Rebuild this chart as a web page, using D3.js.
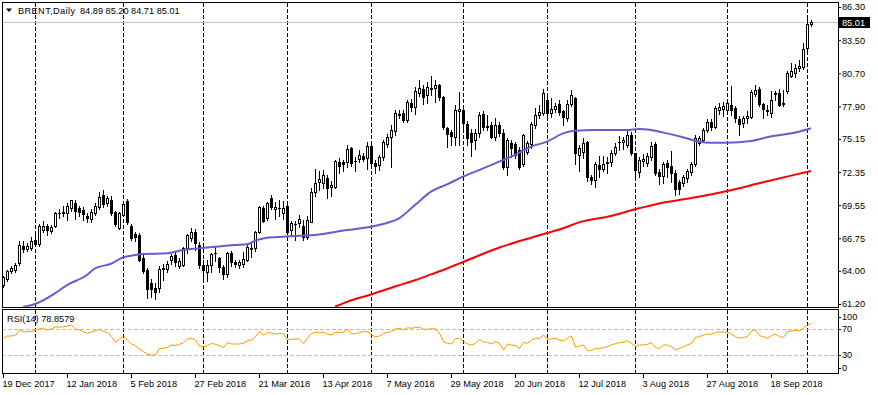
<!DOCTYPE html>
<html><head><meta charset="utf-8">
<script src="https://cdn.jsdelivr.net/npm/d3@7"></script>
<style>
html,body{margin:0;padding:0;background:#fff;}
svg{display:block;}
text{font-family:"Liberation Sans",Arial,sans-serif;font-size:9.2px;fill:#000;}
</style></head><body>
<svg id="c" width="878" height="395"></svg>
<script>
// ---- DATA (BRENT daily, 19 Dec 2017 .. 2 Oct 2018), index = bar number ----
const open = [
62.80,63.28,64.00,64.07,64.64,66.13,65.82,65.96,66.60,66.24,
67.45,67.82,67.40,67.82,68.86,68.90,68.86,69.28,69.70,69.28,
69.15,68.66,68.35,68.86,69.43,70.41,69.71,69.99,68.95,67.65,
68.72,69.90,67.82,67.09,67.03,65.10,64.07,62.94,62.52,62.52,
64.15,64.15,64.92,65.34,64.44,64.50,65.90,66.80,67.31,66.19,
64.50,63.87,64.50,65.50,65.06,64.36,63.70,65.48,64.72,64.50,
64.55,64.92,65.96,65.90,67.25,69.28,68.50,70.13,69.20,69.35,
68.86,69.51,67.45,67.95,68.07,67.80,66.89,68.16,70.69,71.55,
71.40,71.82,71.06,71.12,73.23,73.23,73.23,74.36,73.28,73.43,
73.71,73.51,74.55,73.15,72.95,73.60,74.73,75.29,75.85,77.20,
77.37,76.75,78.22,77.82,79.06,79.37,78.86,79.43,79.43,79.71,
78.72,76.05,75.71,75.34,77.50,77.60,76.40,75.68,75.06,75.62,
77.30,76.25,76.33,75.29,76.33,75.68,72.81,74.84,74.72,74.20,
73.03,74.08,74.72,76.33,77.17,77.31,78.44,77.31,77.65,78.10,
77.50,76.89,78.10,78.58,73.80,74.08,74.92,71.96,71.68,72.95,
72.58,73.10,73.17,73.99,74.85,74.86,74.64,75.48,73.99,72.38,
73.30,73.14,73.65,74.72,72.38,72.02,73.09,72.89,72.30,71.54,
71.45,71.82,72.38,73.03,74.78,75.06,75.90,76.61,76.19,77.60,
77.65,77.60,78.02,77.74,76.83,76.47,76.95,77.03,78.95,79.34,
78.10,77.50,77.31,78.95,79.00,78.10,79.23,80.47,80.75,81.12,
81.26,82.81,84.89];
const high = [
63.60,64.10,64.40,64.70,66.50,66.50,66.35,66.90,67.00,68.00,
68.20,68.00,67.90,69.00,69.20,69.50,69.70,70.00,70.00,69.50,
69.40,68.90,69.20,69.70,70.70,70.80,70.30,70.30,69.10,68.95,
69.80,70.10,68.00,67.30,67.20,65.30,64.20,63.30,63.00,64.40,
64.60,64.80,65.40,65.70,65.10,66.00,67.10,67.60,67.50,66.40,
64.90,64.90,65.50,66.00,65.20,64.50,65.60,65.70,64.90,64.90,
65.60,66.30,66.40,67.40,69.50,69.45,69.80,70.40,69.80,70.00,
69.90,69.90,68.20,68.20,68.70,68.30,68.60,71.00,72.60,72.40,
72.50,72.10,71.60,73.40,73.50,73.40,74.60,74.50,73.60,74.20,
74.00,74.90,75.00,73.40,73.80,75.10,75.60,76.30,77.60,77.60,
77.60,78.40,78.50,79.50,80.10,79.70,80.00,80.50,80.10,79.80,
78.80,76.20,75.90,78.00,79.10,77.70,76.70,76.00,76.00,77.40,
77.50,77.20,76.60,76.90,76.60,76.00,75.20,75.10,74.90,74.50,
75.60,75.00,76.60,77.80,78.00,79.40,79.00,78.60,78.20,78.40,
77.60,78.40,79.30,78.70,74.60,75.20,75.00,72.10,73.20,73.70,
73.70,73.60,74.20,74.80,75.40,75.30,75.80,75.70,74.00,73.60,
73.90,74.00,74.90,74.90,72.60,73.20,73.40,74.10,72.50,71.70,
72.10,72.60,73.20,75.50,75.40,76.10,76.80,76.80,77.90,78.20,
78.30,78.40,79.60,77.90,77.10,77.10,77.50,79.30,79.70,79.50,
78.20,78.00,79.20,79.20,79.40,79.30,80.90,81.60,81.50,81.80,
83.30,85.35,85.20];
const low = [
62.60,63.10,63.85,63.90,64.50,65.60,65.70,65.80,66.10,66.10,
67.30,67.00,67.20,67.70,68.50,68.60,68.30,69.10,68.40,68.60,
68.30,68.10,68.10,68.70,69.20,69.40,69.50,68.70,67.80,67.50,
68.60,68.00,66.60,66.50,64.80,63.80,61.68,61.80,61.60,62.20,
63.20,63.90,64.60,64.40,64.20,64.40,65.50,66.50,65.80,64.20,
63.10,63.10,63.90,64.80,63.90,63.30,63.50,64.40,64.30,64.20,
64.30,64.80,65.20,65.70,67.20,68.10,68.30,69.20,68.40,68.60,
68.40,67.10,67.00,66.60,67.70,66.60,66.70,68.10,70.30,70.80,
71.00,70.20,70.30,71.00,72.30,72.40,72.80,72.90,72.40,73.20,
73.30,72.60,72.70,72.30,72.50,73.40,74.50,72.80,75.50,76.90,
76.60,76.60,77.50,77.30,78.80,78.10,78.20,78.90,78.30,78.40,
76.00,74.50,74.60,74.60,74.60,75.70,74.60,73.70,74.30,75.30,
75.90,75.90,75.20,75.10,75.40,72.60,72.10,73.60,73.50,72.60,
72.90,73.90,74.40,76.10,76.90,77.20,77.00,77.00,77.40,77.20,
76.30,76.70,77.90,73.00,72.40,73.50,71.60,71.30,71.10,71.90,
72.40,72.30,72.90,73.80,74.20,74.30,74.50,73.80,71.80,71.90,
72.90,72.90,73.40,72.10,71.30,71.40,71.90,71.50,70.40,70.50,
71.20,71.50,72.10,72.90,74.60,74.90,75.70,75.90,76.10,77.30,
77.10,77.30,77.20,76.60,75.50,76.20,76.50,76.90,78.80,77.90,
76.90,77.20,77.00,78.40,77.90,77.90,79.00,80.40,80.40,80.90,
81.10,82.50,84.71];
const close = [
63.45,64.00,64.27,64.50,66.19,65.82,66.13,66.52,66.24,67.82,
67.82,67.45,67.73,68.86,68.90,68.95,69.50,69.99,69.06,69.00,
68.78,68.44,69.00,69.48,70.27,69.65,70.19,68.86,67.93,68.86,
69.65,68.10,66.80,66.90,64.92,63.99,62.50,62.47,62.24,64.15,
64.25,64.55,65.25,64.72,64.83,65.90,67.03,67.25,66.33,64.50,
64.07,64.50,65.42,65.55,64.36,63.70,65.48,64.78,64.55,64.72,
65.00,66.05,65.85,67.31,69.43,68.21,69.71,69.43,69.40,69.30,
69.28,67.31,68.02,68.00,68.35,66.89,68.30,70.69,71.45,71.74,
72.07,70.98,71.26,73.31,72.86,73.00,74.30,73.09,73.30,73.80,
73.46,74.55,73.15,72.90,73.60,74.92,75.35,75.90,77.32,77.30,
76.75,78.30,77.88,79.23,79.43,78.67,79.51,79.35,79.71,78.72,
76.19,75.57,75.40,77.60,77.68,76.47,75.20,74.92,75.62,77.17,
76.19,76.15,75.29,76.33,75.62,72.81,75.06,74.36,73.80,72.81,
75.48,74.80,76.41,77.17,77.45,79.06,77.31,77.65,77.93,77.45,
76.97,78.10,78.86,73.99,74.36,74.78,71.96,71.68,73.03,72.58,
73.03,73.20,73.93,74.50,74.90,75.06,75.48,73.99,72.52,73.37,
73.45,73.70,74.55,72.30,72.02,73.03,72.81,72.30,70.90,70.89,
71.90,72.47,73.03,75.20,75.20,75.90,76.61,76.13,77.74,77.82,
77.93,78.16,77.60,76.89,76.41,76.89,77.10,79.14,79.30,78.10,
77.65,77.60,78.44,79.00,78.02,78.20,80.69,80.92,81.12,81.32,
82.72,84.87,85.01];
const rsi = [
56,59.7,59.7,61,69,66.4,66.4,67,68,71.5,
71.5,69,70.5,74,73,74,75,76.6,70,69,
66.4,63.8,66,68,70,66.4,65.3,58.7,50,54.6,
59.7,53.5,47.4,44.8,39.2,35.6,31.5,30.5,30.5,40.7,
40.7,42.3,45.9,45,46.9,49.4,55.1,56.1,53.5,44.3,
43.3,44.8,48.4,46.9,44.8,41.7,49.4,47.4,47.4,47.4,
48.4,52.5,53.5,58.7,66.4,61.2,65.3,63.8,62.8,63.8,
62.8,53.5,54.6,55.1,55,48.4,56.1,63.8,65.3,65.3,
65.3,62.3,61.2,65.3,65.3,65.5,70,62.8,63.8,64.8,
66.4,66.4,61.2,58.7,59.7,63.8,65.3,66.4,70.5,71.5,
69,72.5,71.5,73,73,70,70,71,70.5,63.8,
51,48.4,47.4,56.1,56.1,51,47.4,45.9,48.4,54.6,
50,50,47.4,51,48.4,38.2,47.4,45.9,44.8,40.7,
50,48.4,53.5,56.1,56.1,61.2,54.6,55.1,56.1,53.5,
52.5,56.1,59.7,42.3,44.3,45.9,37.2,37.2,40.7,40.7,
41.7,43.3,45.9,48.4,49.4,50,52.5,48.4,43.3,45.9,
45.9,46.9,49.4,41.7,40.7,45.9,45.9,43.3,38.2,40.7,
43.3,45.9,48.4,57.6,58.7,61.2,62.8,62.3,65.3,65.8,
65.8,65.3,62.3,58.7,56.1,57.6,58.7,67.4,69,60.2,
58.7,56.1,60.2,62.8,58.7,57.6,66.4,67.4,67.9,67.9,
71.5,76.6,78.86];
// moving averages at these bar indices
const maBlueIdx = [5,8,13,16,21,23,27,30,33,35,41,45,49,53,58,61,63,66,70,74,78,86,92,95,99,103,107,111,115,119,124,128,132,136,140,143,148,156,159,162,166,170,174,177,181,187,191,196,199,202];
const maBlueVal = [60.95,61.2,62.1,62.8,63.65,64.2,64.6,65.14,65.34,65.43,65.48,65.76,65.9,66.04,66.19,66.24,66.55,66.8,66.89,66.97,67.03,67.45,67.73,67.96,68.44,69.56,70.7,71.31,71.96,72.52,73.23,73.8,74.5,74.92,75.62,75.85,75.9,75.9,75.99,75.9,75.62,75.29,74.92,74.83,74.83,74.97,75.29,75.57,75.76,76.05];
const maRedIdx = [83,86,92,98,103,107,111,115,119,124,128,132,136,140,144,152,158,164,172,181,189,197,202];
const maRedVal = [60.97,61.38,62.0,62.68,63.2,63.7,64.2,64.75,65.3,65.95,66.4,66.8,67.2,67.6,68.1,68.64,69.2,69.7,70.15,70.75,71.4,72.05,72.44];
const priceTicks = [86.30,83.50,80.70,77.90,75.15,72.35,69.55,66.75,64.00,61.20];
const rsiTicks = [100,70,30,0];
const rsiLevels = [70,30];
const dateTickIdx = [0,16,32,48,64,80,96,112,128,144,160,176,192];
const dateTickLabels = ["19 Dec 2017","12 Jan 2018","5 Feb 2018","27 Feb 2018","21 Mar 2018","13 Apr 2018","7 May 2018","29 May 2018","20 Jun 2018","12 Jul 2018","3 Aug 2018","27 Aug 2018","18 Sep 2018"];
const monthStartIdx = [8,30,50,71,92,115,136,158,181,201];
const symbol = "BRENT,Daily";
const lastBid = 85.01;
const rsiLast = 78.8579;

// ---- LAYOUT ----
const svg = d3.select("#c");
const PL = 2, PR = 838, MT = 2, MB = 307, RT = 309, RB = 373;
const x = d3.scaleLinear().domain([0, 202]).range([3, 811]);
const y = d3.scaleLinear().domain([61.2, 86.3]).range([303.97, 7.04]);
const yR = d3.scaleLinear().domain([0, 100]).range([374.8, 309.8]);

svg.append("rect").attr("width", 878).attr("height", 395).attr("fill", "#fff");
const defs = svg.append("defs");
defs.append("clipPath").attr("id", "cm").append("rect").attr("x", PL + 1).attr("y", MT + 1).attr("width", PR - PL - 1).attr("height", MB - MT - 1);
defs.append("clipPath").attr("id", "cr").append("rect").attr("x", PL + 1).attr("y", RT + 1).attr("width", PR - PL - 1).attr("height", RB - RT - 1);

const gm = svg.append("g").attr("clip-path", "url(#cm)");
const gr = svg.append("g").attr("clip-path", "url(#cr)");

// period separators
monthStartIdx.forEach(i => {
  const sx = x(i) + 0.5;
  gm.append("line").attr("x1", sx).attr("x2", sx).attr("y1", MT + 1).attr("y2", MB)
    .attr("stroke", "#000").attr("stroke-dasharray", "4,2");
  gr.append("line").attr("x1", sx).attr("x2", sx).attr("y1", RT + 1).attr("y2", RB)
    .attr("stroke", "#000").attr("stroke-dasharray", "4,2");
});

// bid line
const by = Math.round(y(lastBid)) + 0.5;
gm.append("line").attr("x1", PL).attr("x2", PR).attr("y1", by).attr("y2", by).attr("stroke", "#c0c0c0");

// candles
const cg = gm.append("g");
close.forEach((c, i) => {
  const o = open[i], h = high[i], l = low[i];
  const cx = Math.round(x(i));
  const yh = Math.round(y(h)), yl = Math.round(y(l));
  cg.append("line").attr("x1", cx + 0.5).attr("x2", cx + 0.5).attr("y1", yh).attr("y2", yl + 1).attr("stroke", "#000");
  const top = Math.round(y(Math.max(o, c))), bot = Math.round(y(Math.min(o, c)));
  if (bot - top < 1) {
    cg.append("line").attr("x1", cx - 1).attr("x2", cx + 2).attr("y1", top + 0.5).attr("y2", top + 0.5).attr("stroke", "#000");
  } else if (c >= o) {
    cg.append("rect").attr("x", cx - 0.5).attr("y", top + 0.5).attr("width", 2).attr("height", bot - top)
      .attr("fill", "#fff").attr("stroke", "#000");
  } else {
    cg.append("rect").attr("x", cx - 1).attr("y", top).attr("width", 3).attr("height", bot - top + 1).attr("fill", "#000");
  }
});

// moving averages
const maLine = d3.line().x(d => x(d[0])).y(d => y(d[1])).curve(d3.curveMonotoneX);
gm.append("path").attr("d", maLine(maRedIdx.map((d, k) => [d, maRedVal[k]])))
  .attr("fill", "none").attr("stroke", "#ff0000").attr("stroke-width", 2);
gm.append("path").attr("d", maLine(maBlueIdx.map((d, k) => [d, maBlueVal[k]])))
  .attr("fill", "none").attr("stroke", "#6a5acd").attr("stroke-width", 2);

// RSI panel
rsiLevels.forEach(v => {
  const ly = Math.round(yR(v)) + 0.5;
  gr.append("line").attr("x1", PL).attr("x2", PR).attr("y1", ly).attr("y2", ly)
    .attr("stroke", "#c0c0c0").attr("stroke-dasharray", "4,2");
});
gr.append("path").attr("d", d3.line().x((d, i) => x(i) + 0.5).y(d => yR(d))(rsi))
  .attr("fill", "none").attr("stroke", "#ff9900").attr("stroke-width", 1);

// borders
const bd = svg.append("g").attr("stroke", "#000").attr("fill", "none");
bd.append("line").attr("x1", PL).attr("x2", PR + 1).attr("y1", MT + 0.5).attr("y2", MT + 0.5);
bd.append("line").attr("x1", PL).attr("x2", PR + 1).attr("y1", MB + 0.5).attr("y2", MB + 0.5);
bd.append("line").attr("x1", PL).attr("x2", PR + 1).attr("y1", RT + 0.5).attr("y2", RT + 0.5);
bd.append("line").attr("x1", PL).attr("x2", PR + 1).attr("y1", RB + 0.5).attr("y2", RB + 0.5);
bd.append("line").attr("x1", PL + 0.5).attr("x2", PL + 0.5).attr("y1", MT).attr("y2", MB + 1);
bd.append("line").attr("x1", PL + 0.5).attr("x2", PL + 0.5).attr("y1", RT).attr("y2", RB + 1);
bd.append("line").attr("x1", PR + 0.5).attr("x2", PR + 0.5).attr("y1", MT).attr("y2", MB + 1);
bd.append("line").attr("x1", PR + 0.5).attr("x2", PR + 0.5).attr("y1", RT).attr("y2", RB + 1);

// price axis
const ya = svg.append("g").attr("transform", `translate(${PR},0)`)
  .call(d3.axisRight(y).tickValues(priceTicks).tickFormat(d3.format(".2f")).tickSizeInner(3).tickSizeOuter(0));
ya.select(".domain").remove();
ya.selectAll("text").attr("x", 4).style("font-family", '"Liberation Sans",Arial,sans-serif').style("font-size", "9.2px");

// bid label
svg.append("rect").attr("x", 839).attr("y", by - 5.5).attr("width", 31).attr("height", 11).attr("fill", "#000");
svg.append("text").attr("x", 842).attr("y", by).attr("dy", "0.34em").style("fill", "#fff").text(lastBid.toFixed(2));

// RSI axis labels
rsiTicks.forEach(v => {
  const ly = Math.min(Math.max(yR(v), 316.7), 367.7);
  svg.append("line").attr("x1", PR).attr("x2", PR + 3).attr("y1", Math.round(ly) + 0.5).attr("y2", Math.round(ly) + 0.5).attr("stroke", "#000");
  svg.append("text").attr("x", PR + 4).attr("y", ly).attr("dy", "0.34em").text(v);
});

// date axis
const xa = svg.append("g").attr("transform", `translate(0,${RB + 1})`)
  .call(d3.axisBottom(x).tickValues(dateTickIdx).tickFormat((d, k) => dateTickLabels[k]).tickSizeInner(4).tickSizeOuter(0));
xa.select(".domain").remove();
xa.selectAll("text").attr("text-anchor", "start").attr("x", -1).attr("y", 6)
  .style("font-family", '"Liberation Sans",Arial,sans-serif').style("font-size", "9.2px");

// header
svg.append("path").attr("d", "M6,8.5 L12,8.5 L9,12 Z").attr("fill", "#000");
svg.append("text").attr("x", 18).attr("y", 14).style("letter-spacing", "0.4px").text(symbol);
svg.append("text").attr("x", 80).attr("y", 14)
  .text([open[202], high[202], low[202], close[202]].map(v => v.toFixed(2)).join(" "));
svg.append("text").attr("x", 7).attr("y", 321.5).text("RSI(14) " + rsiLast.toFixed(4));
</script>
</body></html>
